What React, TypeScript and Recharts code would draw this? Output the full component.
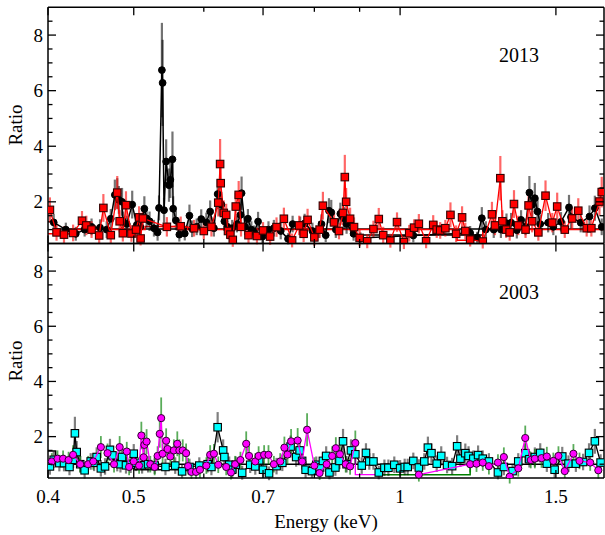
import React from 'react';
import { ComposedChart, Scatter, Line, XAxis, YAxis, ErrorBar } from 'recharts';

const FONT = 'Liberation Serif, Times New Roman, Times, serif';

// ---- axes ----
const xTicks = [0.4, 0.5, 0.6, 0.7, 0.8, 0.9, 1, 1.5];
const xMajorTicks = [0.4, 0.5, 0.7, 1, 1.5];
const xTickLabels = ['0.4', '0.5', '0.7', '1', '1.5'];
const yTicks = [1, 1.5, 2, 2.5, 3, 3.5, 4, 4.5, 5, 5.5, 6, 6.5, 7, 7.5, 8, 8.5];
const yMajorTicks = [2, 4, 6, 8];
const X_DOMAIN = [0.4, 1.7];
const Y_DOMAIN = [0.5, 9];

// ---- 2013, black circles ----
const e13Black = [0.406,0.419,0.430,0.440,0.448,0.458,0.466,0.471,0.476,0.479,0.481,0.485,0.486,0.491,0.498,0.504,0.5085,0.514,0.517,0.521,0.527,0.532,0.534,0.538,0.539,0.541,0.544,0.548,0.550,0.553,0.554,0.558,0.563,0.571,0.578,0.582,0.589,0.596,0.604,0.610,0.616,0.622,0.625,0.628,0.633,0.638,0.646,0.654,0.660,0.662,0.668,0.673,0.679,0.684,0.691,0.699,0.710,0.720,0.733,0.747,0.756,0.771,0.780,0.796,0.810,0.815,0.824,0.831,0.836,0.846,0.856,0.864,0.870,0.886,0.902,1.035,1.200,1.222,1.237,1.250,1.276,1.300,1.319,1.335,1.355,1.370,1.386,1.400,1.410,1.420,1.430,1.440,1.470,1.490,1.520,1.552,1.560,1.600,1.637,1.660,1.690];
const r13Black = [1.26,1.0,0.85,1.0,1.1,1.07,1.0,1.39,2.25,2.3,2.07,2.0,1.3,1.2,1.9,1.17,1.1,1.75,1.4,1.3,1.05,0.9,1.78,6.74,6.28,1.7,3.45,2.6,2.79,3.53,1.75,1.33,0.82,0.86,1.5,1.03,1.1,1.38,1.26,1.65,1.05,2.28,2.0,1.9,1.3,1.1,1.05,1.2,1.53,2.31,1.1,1.39,1.0,0.9,1.29,0.75,1.0,1.05,0.95,0.67,1.2,1.17,1.22,0.95,1.0,1.2,0.8,1.68,1.62,1.0,1.57,1.41,1.2,0.85,0.7,0.79,0.88,0.72,1.41,1.0,1.0,1.0,1.23,1.25,0.98,1.35,1.1,2.33,1.89,2.13,1.65,1.2,1.25,1.1,1.28,1.8,1.45,1.25,1.47,1.77,1.1];
const err13Black = [0.3,0.25,0.25,0.25,0.3,0.3,0.3,0.35,0.55,0.55,0.5,0.5,0.35,0.3,0.5,0.3,0.3,0.45,0.35,0.35,0.3,0.3,0.45,1.7,1.55,0.45,0.8,0.6,0.65,1.0,0.45,0.35,0.25,0.25,0.4,0.3,0.3,0.35,0.35,0.4,0.3,0.55,0.5,0.45,0.35,0.3,0.3,0.3,0.4,0.6,0.3,0.35,0.3,0.25,0.35,0.25,0.3,0.3,0.3,0.2,0.3,0.3,0.35,0.3,0.3,0.35,0.25,0.45,0.45,0.3,0.4,0.4,0.35,0.25,0.2,0.25,0.25,0.2,0.4,0.3,0.3,0.3,0.35,0.35,0.3,0.35,0.3,0.6,0.5,0.55,0.45,0.35,0.35,0.3,0.35,0.45,0.4,0.35,0.4,0.45,0.3];

// ---- 2013, red squares ----
const e13Red = [0.402,0.409,0.417,0.427,0.437,0.442,0.448,0.457,0.462,0.471,0.479,0.482,0.486,0.490,0.497,0.503,0.507,0.509,0.512,0.545,0.565,0.585,0.600,0.612,0.623,0.626,0.627,0.632,0.636,0.639,0.643,0.647,0.652,0.657,0.661,0.674,0.689,0.700,0.713,0.725,0.739,0.755,0.769,0.778,0.786,0.800,0.811,0.818,0.842,0.853,0.862,0.866,0.869,0.878,0.887,0.900,0.918,0.933,0.946,0.957,0.975,0.992,1.010,1.024,1.037,1.050,1.070,1.090,1.100,1.110,1.125,1.140,1.157,1.175,1.185,1.200,1.240,1.270,1.280,1.298,1.305,1.318,1.330,1.345,1.360,1.386,1.397,1.410,1.433,1.460,1.486,1.505,1.535,1.565,1.590,1.625,1.645,1.680,1.690];
const r13Red = [1.71,0.9,0.82,0.88,1.32,1.15,1.0,0.79,1.78,0.8,2.33,1.3,0.87,1.88,0.86,1.0,1.44,0.68,1.4,1.1,1.12,1.05,0.95,1.1,1.97,3.36,2.67,1.6,1.53,0.95,0.82,0.63,1.83,2.25,1.1,0.8,0.77,0.97,0.75,1.09,1.39,0.61,1.15,0.85,1.35,0.72,1.0,1.86,1.26,0.95,1.6,2.89,2.0,1.39,1.09,0.7,0.58,1.02,1.38,0.8,0.6,1.27,0.55,0.87,1.07,1.21,0.58,1.17,1.0,0.97,1.05,1.53,0.85,1.44,0.95,0.64,0.57,1.55,1.15,2.85,1.3,1.0,0.9,1.92,1.15,1.0,1.87,1.3,0.9,2.22,1.25,1.83,1.0,1.4,1.68,1.05,1.05,2.01,2.35];
const err13Red = [0.45,0.3,0.3,0.3,0.35,0.35,0.3,0.3,0.5,0.3,0.6,0.4,0.3,0.5,0.3,0.3,0.4,0.25,0.4,0.35,0.35,0.3,0.3,0.35,0.5,0.9,0.7,0.45,0.4,0.3,0.3,0.25,0.5,0.5,0.35,0.3,0.3,0.3,0.3,0.35,0.4,0.25,0.35,0.3,0.4,0.3,0.3,0.5,0.35,0.3,0.45,0.8,0.5,0.4,0.35,0.3,0.25,0.3,0.4,0.3,0.25,0.35,0.25,0.3,0.3,0.35,0.25,0.35,0.3,0.3,0.3,0.45,0.3,0.4,0.3,0.25,0.25,0.45,0.35,0.8,0.4,0.3,0.3,0.5,0.35,0.3,0.5,0.4,0.3,0.55,0.35,0.5,0.3,0.4,0.45,0.3,0.3,0.5,0.55];

// ---- 2003, cyan squares ----
const e03Cyan = [0.402,0.406,0.412,0.417,0.423,0.427,0.429,0.431,0.435,0.440,0.447,0.451,0.454,0.459,0.464,0.470,0.473,0.479,0.483,0.485,0.490,0.496,0.500,0.503,0.511,0.519,0.528,0.543,0.557,0.567,0.578,0.593,0.606,0.612,0.622,0.631,0.633,0.641,0.646,0.652,0.663,0.677,0.686,0.693,0.700,0.711,0.725,0.736,0.752,0.763,0.770,0.775,0.782,0.795,0.804,0.812,0.818,0.825,0.832,0.845,0.854,0.862,0.870,0.880,0.890,0.905,0.915,0.923,0.933,0.946,0.960,0.970,0.985,1.000,1.012,1.020,1.035,1.050,1.065,1.075,1.085,1.100,1.113,1.130,1.145,1.160,1.170,1.185,1.195,1.210,1.225,1.240,1.260,1.290,1.310,1.340,1.360,1.385,1.400,1.420,1.440,1.465,1.495,1.525,1.550,1.580,1.610,1.635,1.660,1.685];
const r03Cyan = [0.92,1.16,1.04,1.04,0.9,1.16,2.12,1.44,1.0,0.78,1.1,1.05,1.26,0.85,0.92,1.52,1.32,1.04,1.0,1.26,0.96,0.98,1.38,1.05,0.96,1.0,0.95,0.9,0.95,0.74,0.9,0.95,1.0,0.9,2.34,1.5,1.26,0.98,0.8,0.98,0.69,0.98,0.92,1.14,0.8,0.67,0.93,1.05,1.64,1.26,1.5,1.12,0.8,0.75,0.98,0.88,1.12,1.3,0.7,0.88,1.12,1.83,1.0,1.5,1.36,0.95,1.41,1.1,1.1,0.7,0.87,0.87,0.98,0.85,0.9,0.9,1.12,0.88,1.1,1.6,1.4,1.02,1.3,0.97,0.93,1.65,1.2,1.4,1.3,1.2,1.33,1.2,1.1,0.7,0.9,0.75,1.1,1.4,1.18,1.26,1.41,1.02,0.8,1.28,1.02,1.02,1.08,1.41,1.83,1.06];
const err03Cyan = [0.3,0.3,0.3,0.3,0.3,0.3,0.6,0.4,0.3,0.3,0.3,0.3,0.35,0.3,0.3,0.4,0.35,0.3,0.3,0.35,0.3,0.3,0.35,0.3,0.3,0.3,0.3,0.3,0.3,0.25,0.3,0.3,0.3,0.3,0.55,0.4,0.35,0.3,0.3,0.3,0.25,0.3,0.3,0.3,0.3,0.25,0.3,0.3,0.4,0.35,0.4,0.3,0.3,0.25,0.3,0.3,0.3,0.35,0.25,0.3,0.3,0.45,0.3,0.4,0.35,0.3,0.35,0.3,0.3,0.25,0.3,0.3,0.3,0.3,0.3,0.3,0.3,0.3,0.3,0.4,0.35,0.3,0.35,0.3,0.3,0.4,0.3,0.35,0.35,0.3,0.35,0.3,0.3,0.25,0.3,0.25,0.3,0.35,0.3,0.35,0.35,0.3,0.3,0.35,0.3,0.3,0.3,0.35,0.45,0.3];

// ---- 2003, magenta circles (low-energy run, then high-energy run) ----
const e03MagLo = [0.404,0.410,0.416,0.422,0.427,0.435,0.444,0.450,0.459,0.467,0.475,0.482,0.491,0.494,0.500,0.507,0.510,0.513,0.514,0.517,0.522,0.528,0.532,0.535,0.537,0.539,0.544,0.546,0.550,0.555,0.560,0.563,0.568,0.573,0.576,0.581,0.588,0.594,0.604,0.610,0.616,0.623,0.636,0.644,0.651,0.660,0.670,0.675,0.686,0.692,0.702,0.710,0.720,0.732,0.740,0.746,0.753,0.766,0.775,0.785,0.800,0.811,0.826,0.838,0.846,0.855,0.868,0.878,0.890];
const r03MagLo = [1.1,1.2,1.2,1.15,1.34,1.0,1.0,1.1,1.62,1.4,1.0,1.62,1.46,0.9,1.1,0.95,2.04,1.25,1.7,1.82,1.0,0.9,1.3,2.1,2.67,1.38,1.85,1.55,1.28,1.5,1.74,1.5,1.5,1.4,0.93,0.72,0.72,0.8,0.95,1.34,1.38,0.98,0.9,0.7,1.0,1.15,1.74,1.3,1.1,1.3,1.34,1.34,1.0,1.1,1.6,1.35,1.83,1.86,1.1,2.25,0.95,0.68,1.0,1.3,1.58,1.36,1.0,0.92,1.77];
const err03MagLo = [0.3,0.3,0.3,0.3,0.35,0.3,0.3,0.3,0.4,0.35,0.3,0.4,0.35,0.3,0.3,0.3,0.5,0.35,0.45,0.45,0.3,0.3,0.35,0.5,0.75,0.35,0.45,0.4,0.35,0.4,0.45,0.4,0.4,0.35,0.3,0.25,0.25,0.3,0.3,0.35,0.35,0.3,0.3,0.25,0.3,0.3,0.45,0.35,0.3,0.35,0.35,0.35,0.3,0.3,0.4,0.35,0.45,0.45,0.3,0.6,0.3,0.25,0.3,0.35,0.4,0.35,0.3,0.3,0.45];
const e03MagHi = [1.050,1.200,1.220,1.240,1.260,1.290,1.310,1.330,1.360,1.385,1.405,1.420,1.445,1.465,1.490,1.510,1.535,1.570,1.595,1.640,1.675];
const r03MagHi = [0.62,1.0,1.02,1.06,0.93,1.06,1.26,0.55,0.85,1.95,1.15,1.2,1.22,1.28,1.12,1.3,0.75,1.38,1.12,1.06,0.78];
const err03MagHi = [0.25,0.3,0.3,0.3,0.3,0.3,0.35,0.25,0.3,0.45,0.3,0.35,0.35,0.35,0.3,0.35,0.25,0.35,0.3,0.3,0.3];

// ---- model / reference step lines ----
const m13BlackE = [0.4, 0.408, 0.408, 1.7];
const m13BlackR = [1.28, 1.28, 1.02, 1.02];
const m13LowE = [0.88, 0.88, 1.24, 1.24];
const m13LowR = [1.02, 0.81, 0.81, 1.02];
const m13RedE = [0.4, 0.43, 0.43, 0.515, 0.515, 0.575, 0.575, 1.16, 1.16, 1.24, 1.24, 1.7];
const m13RedR = [0.85, 0.85, 1.0, 1.0, 1.11, 1.11, 1.0, 1.0, 0.62, 0.62, 1.0, 1.0];
const m03BlackE = [0.4, 0.408, 0.408, 1.7];
const m03BlackR = [1.48, 1.48, 1.0, 1.0];
const m03LowE = [0.5, 0.5, 0.59, 0.59];
const m03LowR = [1.0, 0.8, 0.8, 1.0];
const m03GreenE = [0.955, 0.955, 1.2, 1.2];
const m03GreenR = [1.0, 0.62, 0.62, 1.0];
const m03MagE = [0.89, 0.89, 0.955];
const m03MagR = [1.77, 0.62, 0.62];

const pts = (e: number[], r: number[], err?: number[]) =>
  e.map((v, i) => (err ? { e: v, r: r[i], err: err[i] } : { e: v, r: r[i] }));

const top = {
  black: pts(e13Black, r13Black, err13Black),
  red: pts(e13Red, r13Red, err13Red),
};
const bottom = {
  cyan: pts(e03Cyan, r03Cyan, err03Cyan),
  magLo: pts(e03MagLo, r03MagLo, err03MagLo),
  magHi: pts(e03MagHi, r03MagHi, err03MagHi),
};

const XTick = (props: any) => {
  const { x, y, payload, dir, labels } = props;
  const v = payload.value;
  const idx = xMajorTicks.indexOf(v);
  const len = idx >= 0 ? 8 : 4.5;
  return (
    <g>
      <line x1={x} y1={y} x2={x} y2={y + dir * len} stroke="#000" strokeWidth={1.3} />
      {labels && idx >= 0 && (
        <text x={x} y={y + 25} textAnchor="middle" fontSize={19} fontFamily={FONT} fill="#000">
          {xTickLabels[idx]}
        </text>
      )}
    </g>
  );
};

const YTick = (props: any) => {
  const { x, y, payload, dir, labels } = props;
  const v = payload.value;
  const major = yMajorTicks.includes(v);
  const len = major ? 8 : 4.5;
  return (
    <g>
      <line x1={x} y1={y} x2={x + dir * len} y2={y} stroke="#000" strokeWidth={1.3} />
      {labels && major && (
        <text x={x - 5} y={y} dy="0.35em" textAnchor="end" fontSize={19} fontFamily={FONT} fill="#000">
          {String(v)}
        </text>
      )}
    </g>
  );
};

const circle = (fill: string, stroke: string, r: number) => (p: any) =>
  <circle cx={p.cx} cy={p.cy} r={r} fill={fill} stroke={stroke} strokeWidth={1} />;
const square = (fill: string, stroke: string, s: number) => (p: any) =>
  <rect x={p.cx - s / 2} y={p.cy - s / 2} width={s} height={s} fill={fill} stroke={stroke} strokeWidth={1.1} />;

function Panel(props: any) {
  const { height, margin, xLabels, children } = props;
  return (
    <ComposedChart width={605} height={height} margin={margin}>
      <XAxis
        xAxisId={0}
        dataKey="e"
        type="number"
        scale="log"
        domain={X_DOMAIN}
        allowDataOverflow
        ticks={xTicks}
        interval={0}
        height={1}
        tickSize={0}
        tickMargin={0}
        tickLine={false}
        axisLine={{ stroke: '#000', strokeWidth: 1.5 }}
        tick={(p: any) => <XTick {...p} dir={-1} labels={xLabels} />}
      />
      <XAxis
        xAxisId="t"
        orientation="top"
        dataKey="e"
        type="number"
        scale="log"
        domain={X_DOMAIN}
        allowDataOverflow
        ticks={xTicks}
        interval={0}
        height={1}
        tickSize={0}
        tickMargin={0}
        tickLine={false}
        axisLine={{ stroke: '#000', strokeWidth: 1.5 }}
        tick={(p: any) => <XTick {...p} dir={1} labels={false} />}
      />
      <YAxis
        yAxisId={0}
        dataKey="r"
        type="number"
        domain={Y_DOMAIN}
        allowDataOverflow
        ticks={yTicks}
        interval={0}
        width={40}
        tickSize={0}
        tickMargin={0}
        tickLine={false}
        axisLine={{ stroke: '#000', strokeWidth: 1.5 }}
        tick={(p: any) => <YTick {...p} dir={1} labels />}
      />
      <YAxis
        yAxisId="r"
        orientation="right"
        type="number"
        domain={Y_DOMAIN}
        allowDataOverflow
        ticks={yTicks}
        interval={0}
        width={1}
        tickSize={0}
        tickMargin={0}
        tickLine={false}
        axisLine={{ stroke: '#000', strokeWidth: 1.5 }}
        tick={(p: any) => <YTick {...p} dir={-1} labels={false} />}
      />
      {children}
    </ComposedChart>
  );
}

const stepLine = (key: string, e: number[], r: number[], color: string, w = 1.5) => (
  <Line
    key={key}
    data={pts(e, r)}
    dataKey="r"
    type="linear"
    stroke={color}
    strokeWidth={w}
    dot={false}
    activeDot={false}
    isAnimationActive={false}
  />
);

export default function App() {
  return (
    <div style={{ position: 'absolute', left: 0, top: 0, width: 605, height: 535, background: '#fff' }}>
      <div style={{ position: 'absolute', left: 0, top: 0 }}>
        <Panel height={250} margin={{ top: 6.3, right: 0, bottom: 5.5, left: 8 }} xLabels={false}>
          {stepLine('m1', m13BlackE, m13BlackR, '#000')}
          {stepLine('m2', m13LowE, m13LowR, '#000')}
          {stepLine('m3', m13RedE, m13RedR, '#ff0000')}
          <Scatter data={top.black} line={{ stroke: '#000', strokeWidth: 1.5 }} shape={circle('#000', '#000', 3.4)} isAnimationActive={false}>
            <ErrorBar dataKey="err" direction="y" width={0} stroke="#000" strokeOpacity={0.55} strokeWidth={2.2} />
          </Scatter>
          <Scatter data={top.red} line={{ stroke: '#ff0000', strokeWidth: 1.3 }} shape={square('#ff0000', '#300', 7.5)} isAnimationActive={false}>
            <ErrorBar dataKey="err" direction="y" width={0} stroke="#ff0000" strokeOpacity={0.6} strokeWidth={2.2} />
          </Scatter>
        </Panel>
      </div>
      <div style={{ position: 'absolute', left: 0, top: 0 }}>
        <Panel height={535} margin={{ top: 242.5, right: 0, bottom: 56, left: 8 }} xLabels>
          {stepLine('b1', m03BlackE, m03BlackR, '#000')}
          {stepLine('b2', m03LowE, m03LowR, '#000')}
          {stepLine('b3', m03GreenE, m03GreenR, '#008000')}
          {stepLine('b4', m03MagE, m03MagR, '#ff00ff', 1.3)}
          <Scatter data={bottom.cyan} line={{ stroke: '#000', strokeWidth: 1.3 }} shape={square('#00ffff', '#000', 7.5)} isAnimationActive={false}>
            <ErrorBar dataKey="err" direction="y" width={0} stroke="#000" strokeOpacity={0.5} strokeWidth={2.2} />
          </Scatter>
          <Scatter data={bottom.magLo} line={{ stroke: '#ff00ff', strokeWidth: 1.3 }} shape={circle('#ff00ff', '#303', 3.6)} isAnimationActive={false}>
            <ErrorBar dataKey="err" direction="y" width={0} stroke="#008000" strokeOpacity={0.65} strokeWidth={1.8} />
          </Scatter>
          <Scatter data={bottom.magHi} line={{ stroke: '#ff00ff', strokeWidth: 1.3 }} shape={circle('#ff00ff', '#303', 3.6)} isAnimationActive={false}>
            <ErrorBar dataKey="err" direction="y" width={0} stroke="#008000" strokeOpacity={0.65} strokeWidth={1.8} />
          </Scatter>
        </Panel>
      </div>
      <svg width={605} height={535} style={{ position: 'absolute', left: 0, top: 0, pointerEvents: 'none' }}>
        <text x={0} y={0} transform="translate(22,125) rotate(-90)" textAnchor="middle" fontSize={19} fontFamily={FONT}>Ratio</text>
        <text x={0} y={0} transform="translate(22,361) rotate(-90)" textAnchor="middle" fontSize={19} fontFamily={FONT}>Ratio</text>
        <text x={519} y={62} textAnchor="middle" fontSize={20} fontFamily={FONT}>2013</text>
        <text x={519} y={299} textAnchor="middle" fontSize={20} fontFamily={FONT}>2003</text>
        <text x={326} y={528} textAnchor="middle" fontSize={19} fontFamily={FONT}>Energy (keV)</text>
      </svg>
    </div>
  );
}
